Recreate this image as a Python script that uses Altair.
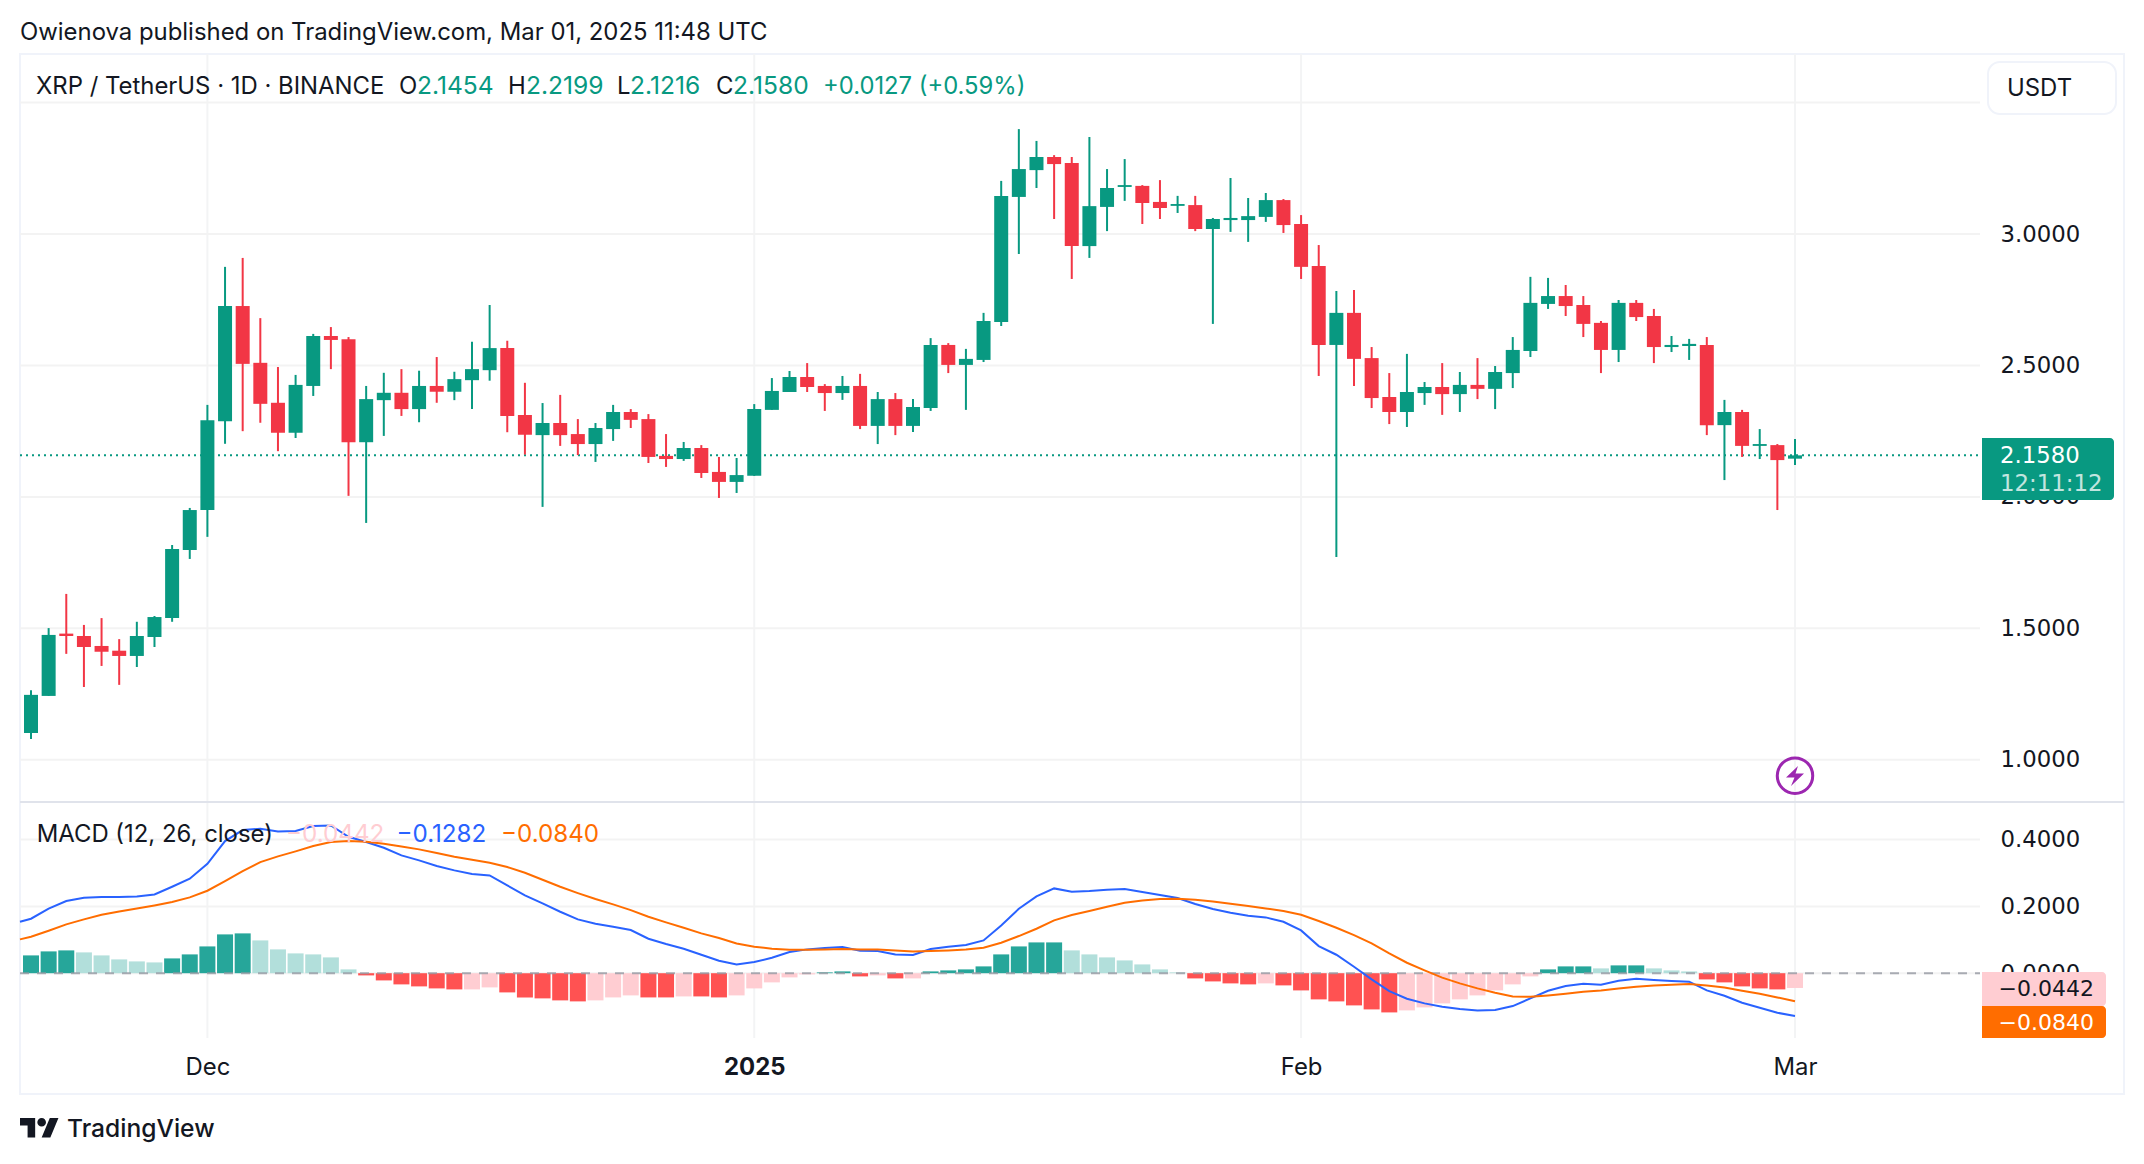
import altair as alt
import pandas as pd

dates = pd.date_range("2024-11-21", "2025-03-01").strftime("%Y-%m-%d").tolist()

opens = [1.102,1.243,1.480,1.471,1.433,1.415,1.395,1.467,1.539,1.798,
         1.950,2.288,2.726,2.510,2.358,2.244,2.422,2.612,2.600,2.208,
         2.368,2.396,2.334,2.422,2.400,2.444,2.482,2.566,2.312,2.235,
         2.281,2.239,2.201,2.258,2.323,2.296,2.156,2.144,2.186,2.095,
         2.057,2.080,2.331,2.399,2.456,2.422,2.395,2.422,2.270,2.372,
         2.270,2.338,2.578,2.502,2.521,2.665,3.141,3.243,3.293,3.270,
         2.954,3.103,3.179,3.183,3.122,3.107,3.110,3.019,3.053,3.053,
         3.065,3.129,3.038,2.878,2.578,2.700,2.528,2.380,2.323,2.395,
         2.418,2.391,2.426,2.411,2.471,2.555,2.734,2.764,2.730,2.662,
         2.559,2.738,2.688,2.570,2.574,2.578,2.273,2.323,2.194,2.197,2.1454]
highs = [1.265,1.501,1.631,1.513,1.539,1.459,1.525,1.547,1.817,1.958,
         2.350,2.875,2.909,2.680,2.494,2.464,2.620,2.646,2.608,2.422,
         2.472,2.486,2.480,2.532,2.476,2.590,2.730,2.594,2.434,2.357,
         2.388,2.296,2.281,2.350,2.334,2.315,2.239,2.209,2.197,2.152,
         2.148,2.353,2.452,2.479,2.509,2.429,2.460,2.468,2.399,2.395,
         2.372,2.604,2.585,2.563,2.700,3.202,3.399,3.354,3.300,3.293,
         3.369,3.247,3.285,3.186,3.205,3.145,3.145,3.061,3.213,3.137,
         3.156,3.133,3.072,2.958,2.783,2.787,2.570,2.471,2.544,2.437,
         2.509,2.475,2.528,2.498,2.608,2.837,2.833,2.806,2.764,2.669,
         2.749,2.749,2.715,2.612,2.601,2.608,2.369,2.331,2.258,2.201,2.2199]
lows = [1.079,1.243,1.403,1.277,1.357,1.285,1.353,1.429,1.525,1.764,
        1.848,2.202,2.250,2.282,2.174,2.224,2.384,2.486,2.004,1.901,
        2.232,2.308,2.284,2.358,2.368,2.334,2.442,2.246,2.161,1.962,
        2.194,2.159,2.133,2.213,2.262,2.129,2.114,2.137,2.072,1.996,
        2.015,2.080,2.331,2.399,2.399,2.327,2.369,2.258,2.201,2.235,
        2.247,2.327,2.471,2.331,2.513,2.650,2.924,3.175,3.057,2.829,
        2.909,3.011,3.126,3.038,3.057,3.080,3.011,2.658,3.008,2.970,
        3.046,3.004,2.829,2.460,1.771,2.422,2.338,2.277,2.266,2.350,
        2.312,2.323,2.372,2.334,2.414,2.532,2.715,2.688,2.608,2.471,
        2.513,2.669,2.509,2.551,2.521,2.235,2.064,2.152,2.144,1.950,2.1216]
closes = [1.247,1.475,1.471,1.429,1.411,1.395,1.471,1.543,1.802,1.950,
          2.292,2.726,2.506,2.354,2.244,2.426,2.612,2.597,2.208,2.372,
          2.396,2.334,2.422,2.400,2.448,2.486,2.566,2.308,2.236,2.281,
          2.235,2.201,2.262,2.323,2.293,2.152,2.144,2.186,2.091,2.057,
          2.083,2.334,2.403,2.456,2.418,2.395,2.422,2.270,2.372,2.270,
          2.342,2.578,2.502,2.525,2.669,3.145,3.247,3.293,3.266,2.954,
          3.106,3.175,3.186,3.118,3.099,3.114,3.019,3.057,3.061,3.068,
          3.129,3.034,2.875,2.578,2.700,2.525,2.376,2.323,2.399,2.418,
          2.391,2.426,2.411,2.475,2.559,2.738,2.764,2.726,2.658,2.559,
          2.738,2.684,2.570,2.578,2.582,2.273,2.323,2.194,2.201,2.140,2.1580]

hist = [.0533,.0653,.0683,.0623,.0533,.0413,.0353,.0323,.0443,.0563,
        .0802,.1162,.1192,.0982,.0713,.0593,.0563,.0473,.0114,-.0066,
        -.0216,-.0335,-.0395,-.0455,-.0485,-.0485,-.0425,-.0575,-.0725,-.0754,
        -.0814,-.0844,-.0814,-.0725,-.0665,-.0725,-.0725,-.0695,-.0695,-.0725,
        -.0665,-.0455,-.0275,-.0126,-.0036,.0024,.0054,-.0096,-.0066,-.0156,
        -.0156,.0054,.0084,.0114,.0204,.0563,.0802,.0922,.0922,.0683,
        .0563,.0473,.0383,.0263,.0114,.0024,-.0156,-.0246,-.0305,-.0335,
        -.0305,-.0365,-.0515,-.0784,-.0844,-.0964,-.1084,-.1174,-.1114,-.1024,
        -.0904,-.0784,-.0665,-.0515,-.0335,-.0096,.0114,.0204,.0204,.0144,
        .0234,.0234,.0144,.0084,.0054,-.0186,-.0275,-.0395,-.0455,-.0485,-.0442]
hist_kinds = list("DDDLLLLLDDDDDLLLLLLRRRRRRPPRRRRRPPPRRPRRPPPPPDDRPRP"
                  "DDDDDDDDLLLLLLLRRRRPRRRRRRRPPPPPPPPDDDLDDLLLRRRRRP")

line_dates = ["2024-11-20T09:00:00Z"] + dates
macd_line = [.1541,.1631,.1932,.2160,.2260,.2279,.2279,.2299,.2359,.2589,.2828,
             .3277,.3956,.4285,.4325,.4246,.4256,.4405,.4425,.4086,.3926,
             .3757,.3527,.3377,.3208,.3078,.2968,.2928,.2629,.2329,.2090,
             .1840,.1611,.1481,.1391,.1291,.1032,.0872,.0733,.0553,.0373,
             .0263,.0333,.0463,.0633,.0713,.0752,.0782,.0673,.0663,.0563,
             .0543,.0723,.0792,.0842,.0982,.1431,.1930,.2299,.2539,.2439,
             .2459,.2499,.2519,.2429,.2339,.2250,.2070,.1920,.1810,.1721,
             .1671,.1541,.1281,.0812,.0553,.0194,-.0186,-.0535,-.0764,-.0904,
             -.1004,-.1074,-.1114,-.1104,-.0984,-.0754,-.0525,-.0385,-.0315,-.0345,
             -.0226,-.0166,-.0206,-.0236,-.0255,-.0515,-.0675,-.0884,-.1034,-.1184,-.1282]
signal_line = [.1012,.1092,.1271,.1461,.1611,.1750,.1850,.1940,.2030,.2130,.2269,
               .2469,.2758,.3058,.3327,.3497,.3647,.3806,.3926,.3956,.3936,
               .3876,.3796,.3707,.3597,.3487,.3397,.3307,.3178,.3008,.2798,
               .2589,.2399,.2220,.2060,.1890,.1691,.1521,.1361,.1192,.1052,
               .0892,.0792,.0733,.0703,.0703,.0713,.0723,.0713,.0713,.0683,
               .0653,.0663,.0683,.0713,.0762,.0912,.1112,.1331,.1581,.1741,
               .1860,.1990,.2110,.2180,.2220,.2230,.2200,.2150,.2080,.2010,
               .1940,.1860,.1750,.1561,.1361,.1142,.0892,.0593,.0313,.0084,
               -.0134,-.0305,-.0455,-.0585,-.0695,-.0705,-.0665,-.0615,-.0555,-.0515,
               -.0455,-.0405,-.0365,-.0345,-.0325,-.0365,-.0425,-.0525,-.0615,-.0725,-.0840]

price_ticks = [3.5, 3.0, 2.5, 2.0, 1.5, 1.0]
macd_ticks = [0.4, 0.2, 0.0]
time_ticks = ["2024-12-01", "2025-01-01", "2025-02-01", "2025-03-01"]
last_close = 2.1580

UP, DOWN = "#089981", "#F23645"
INK = "#131722"
GRID = "#f3f3f3"
FONT = "Inter"
TS = 23.9
TAB = "DejaVu Sans"
TABS = 22.8


def px(v):
    return v - 8


x_scale = alt.Scale(type="utc", domain=["2024-11-21", "2025-03-01"], range=[px(31), px(1795)], padding=0)
p_scale = alt.Scale(domain=[1.0, 3.5], range=[px(759.8), px(102.55)], nice=False, zero=False)
m_scale = alt.Scale(domain=[-0.2, 0.4], range=[px(1040.0), px(839.6)], nice=False, zero=False)

X = alt.X("date:T", scale=x_scale, axis=None)
Y_PRICE_AXIS = alt.Axis(values=price_ticks, orient="right", format=".4f", offset=px(2000) - 2128,
                        domain=False, ticks=False, grid=False, labelPadding=0, labelAlign="left",
                        labelFont=TAB, labelFontSize=TABS, labelColor=INK, title=None,
                        labelOverlap=False, labelBound=False, labelFlush=False)
Y_MACD_AXIS = alt.Axis(values=macd_ticks, orient="right", format=".4f", offset=px(2000) - 2128,
                       domain=False, ticks=False, grid=False, labelPadding=0, labelAlign="left",
                       labelFont=TAB, labelFontSize=TABS, labelColor=INK, title=None,
                       labelOverlap=False, labelBound=False, labelFlush=False)

candles = pd.DataFrame({"date": dates, "open": opens, "high": highs, "low": lows, "close": closes})
candles["top"] = candles[["open", "close"]].max(axis=1)
candles["bot"] = candles[["open", "close"]].min(axis=1)
candles["dir"] = ["up" if c >= o else "down" for o, c in zip(opens, closes)]
dir_scale = alt.Scale(domain=["up", "down"], range=[UP, DOWN])

hdf = pd.DataFrame({"date": dates, "hist": hist, "base": [0.0] * len(hist), "kind": hist_kinds})
hist_scale = alt.Scale(domain=["D", "L", "R", "P"], range=["#26a69a", "#b2dfdb", "#ff5252", "#ffcdd2"])
ldf = pd.DataFrame({"date": line_dates, "macd": macd_line, "signal": signal_line})

one = alt.Data(values=[{"k": 1}])


def text(s, x, y, color=INK, size=TS, weight=400, align="left", font=FONT, opacity=1):
    return alt.Chart(one).mark_text(text=s, color=color, fontSize=size, fontWeight=weight, align=align,
                                    baseline="middle", font=font, opacity=opacity).encode(
        x=alt.value(px(x)), y=alt.value(px(y + 1.2)))


def box(x0, x1, y0, y1, fill, stroke=None, **radius):
    kw = dict(fill=fill, **radius)
    if stroke:
        kw.update(stroke=stroke, strokeWidth=2)
    return alt.Chart(one).mark_rect(**kw).encode(
        x=alt.value(px(x0)), x2=alt.value(px(x1)), y=alt.value(px(y0)), y2=alt.value(px(y1)))


def hline(y0, color, x0=20, x1=1980, **kw):
    return alt.Chart(one).mark_rule(color=color, **kw).encode(
        x=alt.value(px(x0)), x2=alt.value(px(x1)), y=alt.value(px(y0)))


layers = []

# outer frame and pane divider
layers.append(alt.Chart(one).mark_rect(fillOpacity=0, stroke="#f0f3fa", strokeWidth=2).encode(
    x=alt.value(px(20)), x2=alt.value(px(2124)), y=alt.value(px(54)), y2=alt.value(px(1094))))

# grid
layers.append(alt.Chart(pd.DataFrame({"date": time_ticks})).mark_rule(color="#f3f4f5", strokeWidth=2).encode(
    x=alt.X("date:T", scale=x_scale,
            axis=alt.Axis(values=time_ticks, orient="bottom", offset=px(1067.7) - 1148,
                          domain=False, ticks=False, grid=False, labelPadding=0, title=None,
                          labelBaseline="middle", labelFont=FONT, labelFontSize=TS, labelColor=INK,
                          labelOverlap=False, labelBound=False, labelFlush=False,
                          labelExpr="utcmonth(datum.value)==0 ? utcFormat(datum.value,'%Y') : utcFormat(datum.value,'%b')",
                          labelFontWeight={"condition": {"test": "utcmonth(datum.value)==0", "value": 700},
                                           "value": 400})),
    y=alt.value(px(54)), y2=alt.value(px(1038))))
layers.append(alt.Chart(pd.DataFrame({"v": price_ticks})).mark_rule(color=GRID, strokeWidth=2).encode(
    y=alt.Y("v:Q", scale=p_scale, axis=Y_PRICE_AXIS), x=alt.value(px(20)), x2=alt.value(px(1980))))
layers.append(alt.Chart(pd.DataFrame({"v": macd_ticks})).mark_rule(color=GRID, strokeWidth=2).encode(
    y=alt.Y("v:Q", scale=m_scale, axis=Y_MACD_AXIS), x=alt.value(px(20)), x2=alt.value(px(1980))))
layers.append(hline(802, "#e0e3eb", x1=2124, strokeWidth=2))

# last price line
layers.append(alt.Chart(pd.DataFrame({"v": [last_close]})).mark_rule(
    color=UP, strokeWidth=2, strokeDash=[2, 4]).encode(
    y=alt.Y("v:Q", scale=p_scale, axis=None), x=alt.value(px(20)), x2=alt.value(px(1980))))

# candles
layers.append(alt.Chart(candles).mark_rule(strokeWidth=2).encode(
    x=X, y=alt.Y("low:Q", scale=p_scale, axis=None), y2="high:Q",
    color=alt.Color("dir:N", scale=dir_scale, legend=None)))
layers.append(alt.Chart(candles).mark_bar(size=14).encode(
    x=X, y=alt.Y("bot:Q", scale=p_scale, axis=None), y2="top:Q",
    color=alt.Color("dir:N", scale=dir_scale, legend=None)))

# MACD histogram and lines
layers.append(alt.Chart(hdf).mark_bar(size=16).encode(
    x=X, y=alt.Y("hist:Q", scale=m_scale, axis=None), y2="base:Q",
    color=alt.Color("kind:N", scale=hist_scale, legend=None)))
layers.append(alt.Chart(pd.DataFrame({"v": [0.0]})).mark_rule(
    color="#9598a1", strokeWidth=2, strokeDash=[9, 8], opacity=0.8).encode(
    y=alt.Y("v:Q", scale=m_scale, axis=None), x=alt.value(px(20)), x2=alt.value(px(1980))))
layers.append(alt.Chart(ldf).mark_line(color="#2962FF", strokeWidth=2).encode(
    x=X, y=alt.Y("macd:Q", scale=m_scale, axis=None)))
layers.append(alt.Chart(ldf).mark_line(color="#FF6D00", strokeWidth=2).encode(
    x=X, y=alt.Y("signal:Q", scale=m_scale, axis=None)))

# lightning badge
BOLT = "M0.3,-1 L-0.9,0.15 L-0.05,0.15 L-0.4,1 L0.9,-0.25 L0.05,-0.25 Z"
layers.append(alt.Chart(one).mark_point(shape="circle", size=1257, filled=False, color="#9c27b0",
                                        strokeWidth=3, opacity=1).encode(
    x=alt.value(px(1795)), y=alt.value(px(775.7))))
layers.append(alt.Chart(one).mark_point(shape=BOLT, size=400, filled=True, color="#9c27b0", opacity=1).encode(
    x=alt.value(px(1795)), y=alt.value(px(776))))

# price-scale badges
layers.append(box(1988, 2116, 62, 114, "white", stroke="#f0f3fa", cornerRadius=12))
layers.append(text("USDT", 2007, 88))
layers.append(box(1982, 2114, 438, 500, UP, cornerRadiusTopRight=4, cornerRadiusBottomRight=4))
layers.append(text("2.1580", 2000, 455, color="white", font=TAB, size=TABS))
layers.append(text("12:11:12", 2000, 483, color="white", opacity=0.75, font=TAB, size=TABS))
layers.append(box(1982, 2106, 972, 1006, "#ffcdd2", cornerRadiusTopRight=4, cornerRadiusBottomRight=4))
layers.append(text("\u22120.0442", 1998.6, 987.5, font=TAB, size=TABS - 0.8))
layers.append(box(1982, 2106, 1006, 1038, "#ff6d00", cornerRadiusTopRight=4, cornerRadiusBottomRight=4))
layers.append(text("\u22120.0840", 1998.6, 1022, color="white", font=TAB, size=TABS - 0.8))

# header and legends
layers.append(text("Owienova published on TradingView.com, Mar 01, 2025 11:48 UTC", 20, 32))
layers.append(text("XRP / TetherUS \u00b7 1D \u00b7 BINANCE", 36, 86))
for s, x, c, sz in [("O", 399, INK, TS), ("2.1454", 417, UP, 24.6), ("H", 508, INK, TS), ("2.2199", 526, UP, 24.6),
                    ("L", 617, INK, TS), ("2.1216", 630, UP, 24.6), ("C", 716, INK, TS), ("2.1580", 733, UP, 24.6),
                    ("+0.0127 (+0.59%)", 823, UP, 23.8)]:
    layers.append(text(s, x, 86, color=c, size=sz))
layers.append(text("MACD (12, 26, close)", 36.7, 834))
layers.append(text("\u22120.0442", 286, 834, color="#ffcdd2", size=24.2))
layers.append(text("\u22120.1282", 396.5, 834, color="#2962FF", size=24.2))
layers.append(text("\u22120.0840", 501, 834, color="#FF6D00", size=24.2))

# footer logo
LOGO = ("M-0.222,0.5 L-0.611,0.5 L-0.611,-0.111 L-1,-0.111 L-1,-0.5 L-0.222,-0.5 Z "
        "M0.556,0.5 L0.111,0.5 L0.528,-0.5 L0.972,-0.5 Z "
        "M-0.111,-0.278 a0.222,0.222 0 1,0 0.444,0 a0.222,0.222 0 1,0 -0.444,0 Z")
layers.append(alt.Chart(one).mark_point(shape=LOGO, size=1521, filled=True, color=INK, opacity=1).encode(
    x=alt.value(px(39.5)), y=alt.value(px(1127.7))))
layers.append(text("TradingView", 67, 1129, size=24.6, weight=500))

chart = alt.layer(*layers).resolve_scale(x="independent", y="independent", color="independent").properties(
    width=2128, height=1148, padding=0, autosize=alt.AutoSizeParams(type="none"), background="white"
).configure_view(stroke=None)

chart.save("out.html", embed_options={"renderer": "svg", "actions": False})
